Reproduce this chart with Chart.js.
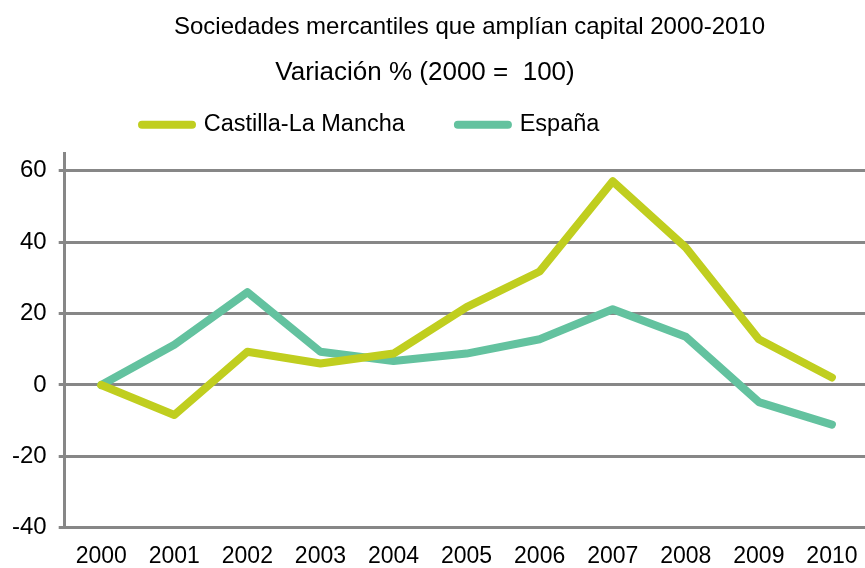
<!DOCTYPE html>
<html>
<head>
<meta charset="utf-8">
<script src="https://cdn.jsdelivr.net/npm/chart.js@4"></script>
<style>
  html, body { margin: 0; padding: 0; background: #fff; overflow: hidden; }
</style>
</head>
<body>
<canvas id="graphCapital" width="873" height="568"></canvas>
<script>
const years = ['2000', '2001', '2002', '2003', '2004', '2005', '2006', '2007', '2008', '2009', '2010'];
const castillaLaMancha = [0, -8.4, 9.3, 6.0, 8.8, 21.8, 31.8, 57.1, 38.5, 12.8, 2.1];
const espana = [0, 11.3, 26.0, 9.3, 6.7, 8.8, 12.8, 21.2, 13.5, -4.8, -11.1];
const yTicks = [-40, -20, 0, 20, 40, 60];

const titleText = 'Sociedades mercantiles que amplían capital 2000-2010';
const subtitleText = 'Variación % (2000 =  100)';

// where the headings and the legend sit in the original
const TITLE_X = 469.5;
const SUBTITLE_X = 425;
const LEGEND_X = 142;
const LEGEND_DY = -28;

Chart.defaults.font.family = "'Liberation Sans', Arial, sans-serif";
Chart.defaults.color = '#000';

const gridGrey = '#878787';

// moves the title blocks and the legend sideways after layout
const nudge = {
  id: 'nudge',
  afterLayout(chart) {
    chart.boxes.forEach(b => {
      if (b === chart.legend) {
        const pad = b.options.labels.padding;
        const x0 = (b.left + pad + b.right - b.lineWidths[0]) / 2;
        const dx = LEGEND_X - x0;
        b.left += dx; b.right += dx;
        b.top += LEGEND_DY;
      } else if (b.options && b.options.text === titleText) {
        const dx = TITLE_X - (b.left + b.right) / 2;
        b.left += dx; b.right += dx;
      } else if (b.options && b.options.text === subtitleText) {
        const dx = SUBTITLE_X - (b.left + b.right) / 2;
        b.left += dx; b.right += dx;
      }
    });
  }
};

const ctx = document.getElementById('graphCapital');
const lineChart = new Chart(ctx, {
  type: 'line',
  data: {
    labels: years,
    datasets: [{
      label: 'Castilla-La Mancha',
      data: castillaLaMancha,
      borderColor: '#c0ce1f',
      backgroundColor: '#c0ce1f',
      borderWidth: 8,
      borderCapStyle: 'round',
      borderJoinStyle: 'round',
      pointRadius: 0,
      fill: false,
      tension: 0
    }, {
      label: 'España',
      data: espana,
      borderColor: '#63c29f',
      backgroundColor: '#63c29f',
      borderWidth: 8,
      borderCapStyle: 'round',
      borderJoinStyle: 'round',
      pointRadius: 0,
      fill: false,
      tension: 0
    }]
  },
  options: {
    responsive: false,
    animation: false,
    layout: { padding: { left: 0, right: 0, top: 0, bottom: 0 } },
    plugins: {
      title: {
        display: true,
        text: titleText,
        font: { size: 24, weight: 'normal' },
        padding: { top: 13, bottom: 15 }
      },
      subtitle: {
        display: true,
        text: subtitleText,
        font: { size: 26, weight: 'normal' },
        padding: { top: 0, bottom: 0 }
      },
      legend: {
        display: true,
        position: 'top',
        maxHeight: 65,
        labels: {
          font: { size: 23.5 },
          usePointStyle: true,
          pointStyle: 'line',
          pointStyleWidth: 50,
          padding: 53,
          generateLabels: chart =>
            Chart.defaults.plugins.legend.labels.generateLabels(chart).map(item => ({
              ...item,
              lineWidth: 8,
              lineCap: 'round',
              strokeStyle: chart.data.datasets[item.datasetIndex].borderColor
            }))
        }
      },
      tooltip: { enabled: false }
    },
    scales: {
      x: {
        offset: true,
        grid: { display: false, drawTicks: false },
        border: { display: false },
        ticks: { font: { size: 23, lineHeight: 1.2 }, padding: 15.5, maxRotation: 0 },
        afterFit: scale => { scale.height = 40.3; }
      },
      y: {
        min: -40,
        max: 65,
        afterBuildTicks: scale => {
          scale.ticks = yTicks.map(v => ({ value: v }));
        },
        grid: { color: gridGrey, lineWidth: 3, tickLength: 6 },
        border: { display: true, color: gridGrey, width: 3 },
        ticks: { font: { size: 24 }, padding: 12 }
      }
    }
  },
  plugins: [nudge]
});
</script>
</body>
</html>
